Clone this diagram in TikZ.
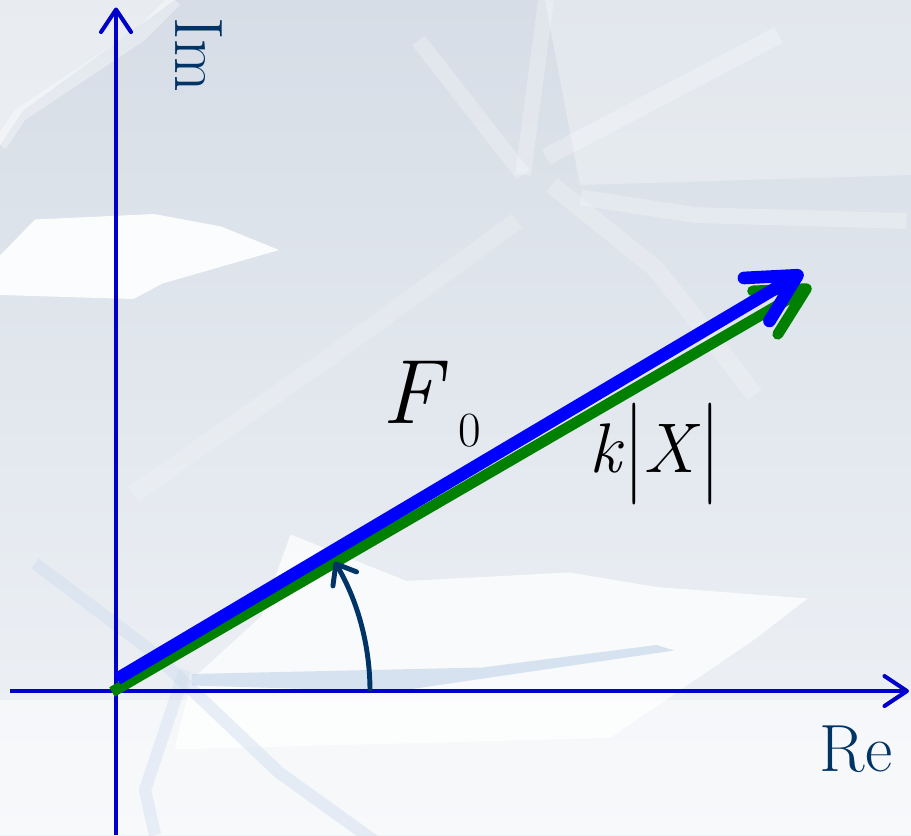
\documentclass[tikz,border=0pt]{standalone}
\usepackage{fontspec}
\usepackage{graphicx}
\usepackage{tikz}
\usetikzlibrary{arrows.meta, calc}
\definecolor{AxisBlue}{RGB}{0, 0, 204}
\definecolor{VecBlue}{RGB}{0, 0, 255}
\definecolor{VecGreen}{RGB}{0, 128, 0}
\definecolor{LabelNavy}{RGB}{0, 51, 102}
\definecolor{IceTop}{RGB}{214, 221, 230}
\definecolor{IceLow}{RGB}{240, 243, 247}
\definecolor{IceBand}{RGB}{206, 220, 238}

\begin{document}
\begin{tikzpicture}[line join=round]
    % --- Ice background ---
    \useasboundingbox (0,0) rectangle (18.22,16.7);
    \shade[top color=IceTop, bottom color=IceLow] (0,0) rectangle (18.22,16.7);
    \fill[white, opacity=0.45] (0,16.7) -- (3.49,16.7) -- (0.46,14.49) -- (0,13.8) -- cycle;
    \fill[white, opacity=0.3] (10.9,16.7) -- (18.22,16.7) -- (18.22,13.2) -- (11.6,13.0) -- cycle;
    \fill[white, opacity=0.9] (0,11.59) -- (0.7,12.31) -- (3.08,12.42) -- (4.42,12.17)
        -- (5.58,11.70) -- (3.25,11.03) -- (2.67,10.72) -- (0,10.80) -- cycle;
    \fill[white, opacity=0.75] (5.81,6.01) -- (8.13,5.08) -- (11.39,5.25) -- (13.13,4.96)
        -- (16.15,4.73) -- (15.1,3.92) -- (12.2,1.94) -- (3.49,1.71) -- (3.83,3.1)
        -- (5.23,4.38) -- cycle;
    \fill[white, opacity=0.5] (0,0) rectangle (18.22,2.7);
    \fill[IceBand, opacity=0.8] (3.83,3.22) -- (9.64,3.35) -- (13.13,3.8) -- (13.48,3.69)
        -- (7.9,2.87) -- (3.83,2.99) -- cycle;
    \draw[white, opacity=0.25, line width=9pt] (10.46,13.21) -- (8.37,15.89);
    \draw[white, opacity=0.25, line width=9pt] (10.46,13.21) -- (10.92,16.7);
    \draw[white, opacity=0.25, line width=10pt] (10.92,13.56) -- (15.57,16.0);
    \draw[white, opacity=0.25, line width=9pt] (11.62,12.75) -- (13.9,12.4) -- (18.13,12.28);
    \draw[white, opacity=0.22, line width=10pt] (11.04,13.0) -- (13.13,11.31) -- (15.1,8.8);
    \draw[white, opacity=0.18, line width=10pt] (10.34,12.28) -- (6.51,9.5) -- (2.67,6.82);
    \draw[white, opacity=0.35, line width=8pt] (0,13.8) -- (0.4,14.4) -- (2.8,16.0) -- (3.5,16.7);
    \draw[IceBand, opacity=0.45, line width=7pt] (0.7,5.43) -- (3.0,3.7) -- (5.58,1.25) -- (7.6,-0.2);
    \draw[IceBand, opacity=0.4, line width=7pt] (3.7,3.3) -- (2.9,0.9) -- (3.1,0);

    % --- Axes ---
    \coordinate (O) at (2.32,2.88);
    \coordinate (reS) at (0.2,2.88);
    \coordinate (reE) at (18.18,2.88);
    \coordinate (imS) at (2.32,0);
    \coordinate (imE) at (2.32,16.55);
    \draw[AxisBlue, line width=2.3pt, -{Straight Barb[length=0.45cm, width=0.6cm, round]}] (reS) -- (reE);
    \draw[AxisBlue, line width=2.3pt, -{Straight Barb[length=0.45cm, width=0.6cm, round]}] (imS) -- (imE);
    \node[LabelNavy, font=\fontsize{39}{42}\selectfont, rotate=-90] (imlabel) at (3.98,15.6) {Im};
    \node[LabelNavy, font=\fontsize{38}{42}\selectfont] (relabel) at (17.12,1.72) {Re};

    % --- Phasors ---
    \coordinate (kS) at (2.24,2.86);
    \coordinate (kE) at (16.22,10.98);
    \coordinate (fS) at (2.34,3.12);
    \coordinate (fE) at (16.06,11.26);
    \draw[VecGreen, line width=6.2pt, -{Straight Barb[length=0.95cm, width=1.0cm, round]}] (kS) -- (kE);
    \draw[VecBlue, line width=7.2pt, -{Straight Barb[length=0.95cm, width=1.0cm, round]}] (fS) -- (fE);

    % --- Phase angle ---
    \coordinate (arcS) at ($(O)+(5.08,0)$);
    \draw[LabelNavy, line width=2.8pt, -{Straight Barb[length=0.35cm, width=0.55cm, round]}]
        (arcS) arc[start angle=0, end angle=30.6, radius=5.08];

    % --- Labels ---
    \node[font=\fontsize{52}{56}\selectfont] (flabel) at (8.3,8.85) {\textit{F}};
    \node[font=\fontsize{28}{30}\selectfont] (fsub) at (9.4,8.08) {0};
    \node[font=\fontsize{40}{44}\selectfont] (kxlabel) at (13.1,7.62)
        {\textit{k}\raisebox{-0.1em}{\scalebox{1}[1.45]{|}}\textit{X}\raisebox{-0.1em}{\scalebox{1}[1.45]{|}}};
\end{tikzpicture}
\end{document}
